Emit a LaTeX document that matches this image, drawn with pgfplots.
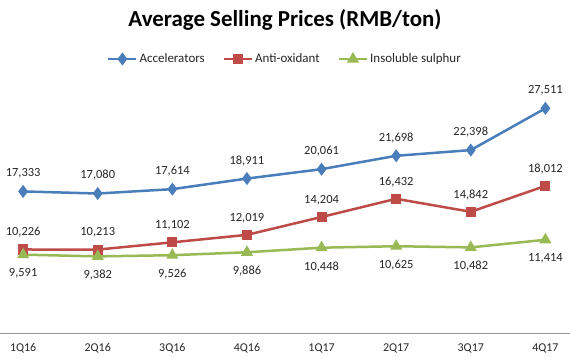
\documentclass[border=0pt]{standalone}
\usepackage{pgfplots}
\usepackage{pgfplotstable}
\pgfplotsset{compat=1.18}
\usepackage{fontspec}
\setmainfont{Carlito}
\definecolor{cblue}{HTML}{4A7EBB}
\definecolor{cred}{HTML}{BE4B48}
\definecolor{cgreen}{HTML}{98B954}
\pgfplotstableread{
x acc acclab anti antilab ins inslab
0 17333 17,333 10226 10,226 9591 9,591
1 17080 17,080 10213 10,213 9382 9,382
2 17614 17,614 11102 11,102 9526 9,526
3 18911 18,911 12019 12,019 9886 9,886
4 20061 20,061 14204 14,204 10448 10,448
5 21698 21,698 16432 16,432 10625 10,625
6 22398 22,398 14842 14,842 10482 10,482
7 27511 27,511 18012 18,012 11414 11,414
}\data
\begin{document}
\begin{tikzpicture}
\useasboundingbox (0,0) rectangle (570bp,364bp);
\node[font=\fontsize{23}{27}\selectfont\bfseries] at (285bp,344bp) {Average Selling Prices (RMB/ton)};
\begin{axis}[
  at={(0bp,31bp)}, anchor=south west,
  scale only axis, width=570bp, height=245bp,
  xmin=-0.31, xmax=7.33, ymin=0, ymax=30000,
  axis x line*=bottom, axis y line=none,
  axis line style={-, color=black!40, line width=0.8bp},
  xtick={0,...,7},
  xticklabels={1Q16,2Q16,3Q16,4Q16,1Q17,2Q17,3Q17,4Q17},
  major tick length=0pt,
  xticklabel style={font=\fontsize{12}{14}\selectfont, text=black!85, yshift=-7bp},
  clip=false,
  legend columns=3,
  legend style={at={(0.5,1)}, anchor=center, yshift=29bp, draw=none,
    font=\fontsize{13}{15}\selectfont, text=black!85,
    /tikz/every even column/.append style={column sep=16bp}},
  legend cell align=left,
  legend image code/.code={\draw[mark repeat=2, mark phase=2] plot coordinates {(0bp,0bp)(14bp,0bp)(28bp,0bp)};},
  nodes near coords,
  point meta=explicit symbolic,
  every node near coord/.append style={font=\fontsize{12.5}{15}\selectfont, text=black!85, anchor=center},
]
\addplot[cblue, line width=2.5bp, mark=diamond*, mark size=4.5bp, mark options={solid},
  every node near coord/.append style={yshift=18bp}] table[x=x, y=acc, meta=acclab] {\data};
\addlegendentry{Accelerators}
\addplot[cred, line width=2.5bp, mark=square*, mark size=3.8bp, mark options={solid},
  every node near coord/.append style={yshift=17bp}] table[x=x, y=anti, meta=antilab] {\data};
\addlegendentry{Anti-oxidant}
\addplot[cgreen, line width=2.5bp, mark=triangle*, mark size=4.5bp, mark options={solid},
  every node near coord/.append style={yshift=-19bp}] table[x=x, y=ins, meta=inslab] {\data};
\addlegendentry{Insoluble sulphur}
\end{axis}
\end{tikzpicture}
\end{document}
